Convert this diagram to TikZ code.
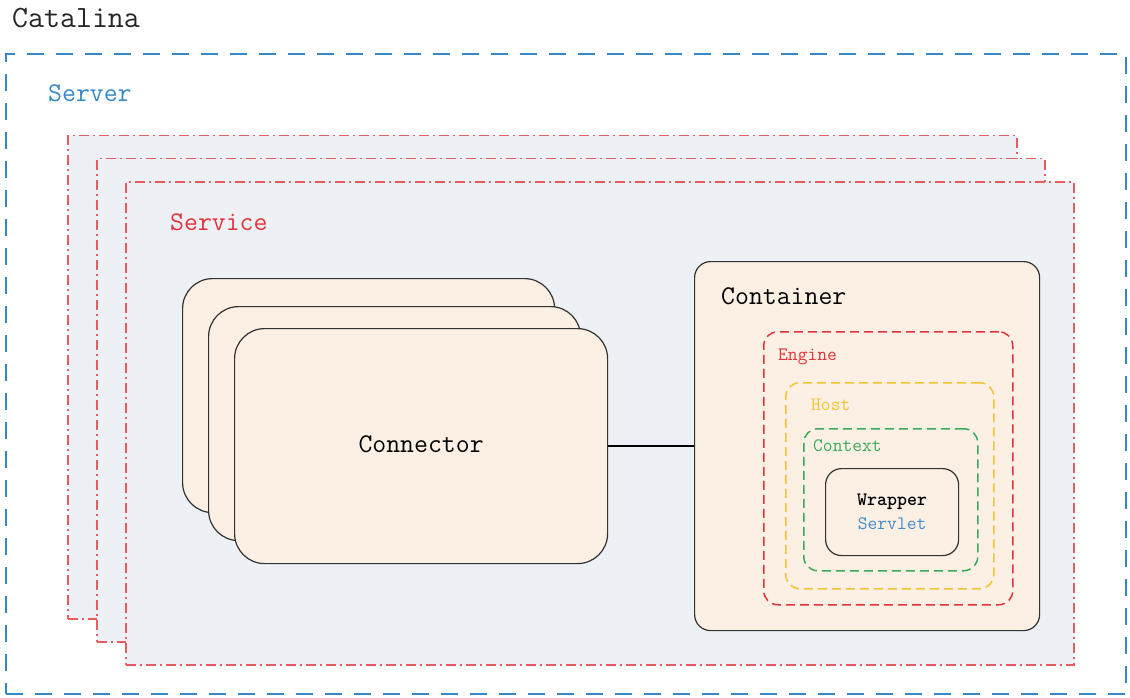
\documentclass[tikz,border=0pt]{standalone}
\usepackage{fontspec}
\definecolor{catblue}{RGB}{52,136,200}
\definecolor{svcred}{RGB}{232,92,96}
\definecolor{svcfill}{RGB}{237,240,245}
\definecolor{boxfill}{RGB}{252,239,227}
\definecolor{engred}{RGB}{226,52,58}
\definecolor{hostyellow}{RGB}{244,196,48}
\definecolor{ctxgreen}{RGB}{58,170,92}
\definecolor{letblue}{RGB}{66,140,204}
\begin{document}
\begin{tikzpicture}[x=1pt,y=1pt,
        big text/.style={inner sep=0pt,anchor=base west,font=\ttfamily\fontsize{27}{30}\selectfont},
        small text/.style={inner sep=0pt,anchor=base west,font=\ttfamily\fontsize{19}{24}\selectfont},
        outer box/.style={draw=catblue,line width=2pt,dash pattern=on 17pt off 12pt,anchor=north west,inner sep=0pt},
        service box/.style={draw=svcred,fill=svcfill,line width=1.5pt,dash pattern=on 10pt off 4pt on 2pt off 4pt,anchor=north west,inner sep=0pt},
        conn box/.style={draw=black!80,fill=boxfill,line width=1.2pt,rounded corners=30pt,anchor=north west,inner sep=0pt},
        layer box/.style={line width=1.5pt,dash pattern=on 9pt off 5pt,rounded corners=14pt,anchor=north west,inner sep=0pt}]

    \useasboundingbox (0,0) rectangle (1130,-698);

    \node[outer box,minimum width=1120pt,minimum height=640pt] (catalina) at (5,-53) {};
    \node[big text,text=black!85,font=\ttfamily\fontsize{31}{34}\selectfont] (catalina label) at (12,-28) {Catalina};
    \node[big text,text=catblue] (server label) at (48,-102) {Server};

    \node[service box,minimum width=949pt,minimum height=483pt] (service1) at (67,-135) {};
    \node[service box,minimum width=948pt,minimum height=483pt] (service2) at (96,-158) {};
    \node[service box,minimum width=948pt,minimum height=483pt] (service3) at (125,-181) {};
    \node[big text,text=engred] (service label) at (170,-230) {Service};

    \node[conn box,minimum width=372pt,minimum height=234pt] (conn1) at (182,-278) {};
    \node[conn box,minimum width=372pt,minimum height=234pt] (conn2) at (208,-306) {};
    \node[conn box,minimum width=373pt,minimum height=235pt,
        font=\ttfamily\fontsize{27}{30}\selectfont] (conn3) at (234,-328) {\raisebox{4pt}{Connector}};

    \node[conn box,rounded corners=16pt,minimum width=345pt,minimum height=369pt] (container) at (694,-261) {};
    \node[big text] (container label) at (721,-304) {Container};

    \node[layer box,draw=engred,minimum width=249pt,minimum height=273pt] (engine) at (763,-331) {};
    \node[small text,text=engred] (engine label) at (778,-360) {Engine};
    \node[layer box,draw=hostyellow,minimum width=208pt,minimum height=206pt] (host) at (785,-382) {};
    \node[small text,text=hostyellow] (host label) at (811,-410) {Host};
    \node[layer box,draw=ctxgreen,minimum width=174pt,minimum height=142pt] (context) at (803,-428) {};
    \node[small text,text=ctxgreen] (context label) at (813,-451) {Context};

    \node[conn box,fill=none,rounded corners=16pt,minimum width=133pt,minimum height=87pt,
        align=center,font=\ttfamily\fontsize{19}{24}\selectfont] (wrapper) at (825,-468)
        {{\bfseries Wrapper}\\\textcolor{letblue}{Servlet}};

    \path[draw,line width=1.5pt]
    (conn3) edge node {} (container);

\end{tikzpicture}
\end{document}
